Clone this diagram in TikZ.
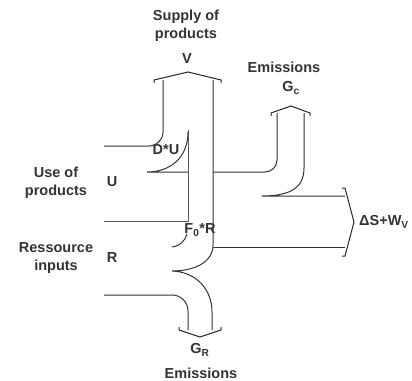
\documentclass[tikz,border=0pt]{standalone}
\usepackage{fontspec}
\setmainfont{Liberation Sans}
\usepackage{tikz}
\usetikzlibrary{positioning}

\begin{document}
\begin{tikzpicture}[x=1pt, y=-1pt,
  flow/.style={draw=black!80, line width=1pt},
  inner/.style={draw=black!65, line width=1pt},
  head/.style={draw=black!85, line width=1pt, line join=miter},
  lbl/.style={font=\bfseries\fontsize{14.5}{18}\selectfont, align=center,
    inner sep=0pt, text=black!80}]
\useasboundingbox (0,0) rectangle (412,380);
\draw[flow, rounded corners=14pt] (104,146) -- (163,146) -- (163,80);
\draw[flow] (188,132) .. controls (188,158) and (170,172) .. (147,172) -- (188,172);
\draw[inner] (104,221) -- (188,221) -- (188,130);
\draw[flow] (213,80) -- (213,245) .. controls (213,262) and (195,271) .. (172,271)
  .. controls (197,272) and (212,290) .. (212,312) -- (212,330);
\draw[flow, rounded corners=16pt] (104,295) -- (188,295) -- (188,330);
\draw[flow] (172,247) .. controls (180,246) and (185,241) .. (187,234);
\draw[flow, rounded corners=12pt] (213,172) -- (277,172) -- (277,113);
\draw[flow] (304,113) -- (304,168) .. controls (304,188) and (290,196) .. (262,196) -- (345,196);
\draw[flow] (213,247) -- (345,247);
\draw[head] (154,83) -- (154,80) -- (188,72) -- (221,80) -- (221,83);
\draw[head] (271,116) -- (271,113) -- (291,106) -- (310,113) -- (310,116);
\draw[head] (342,188) -- (345,188) -- (354,222) -- (345,256) -- (342,256);
\draw[head] (179,327) -- (179,330) -- (200,337) -- (221,330) -- (221,327);
\node[lbl] (supply) at (186,26) {Supply of\\products};
\node[lbl] (vout) at (187,59) {V};
\node[lbl] (emisC) at (284,67) {Emissions};
\node[lbl] (gc) at (291,88) {G\textsubscript{c}};
\node[lbl] (useP) at (56,183) {Use of\\products};
\node[lbl] (uin) at (112,182) {U};
\node[lbl] (resIn) at (56,258) {Ressource\\inputs};
\node[lbl] (rin) at (112,258) {R};
\node[lbl] (du) at (166,150) {D*U};
\node[lbl] (fr) at (200,230) {F\textsubscript{0}*R};
\node[lbl, anchor=west] (ds) at (359,222) {ΔS+W\textsubscript{V}};
\node[lbl] (gr) at (200,350) {G\textsubscript{R}};
\node[lbl] (emisR) at (201,373) {Emissions};
\end{tikzpicture}
\end{document}
